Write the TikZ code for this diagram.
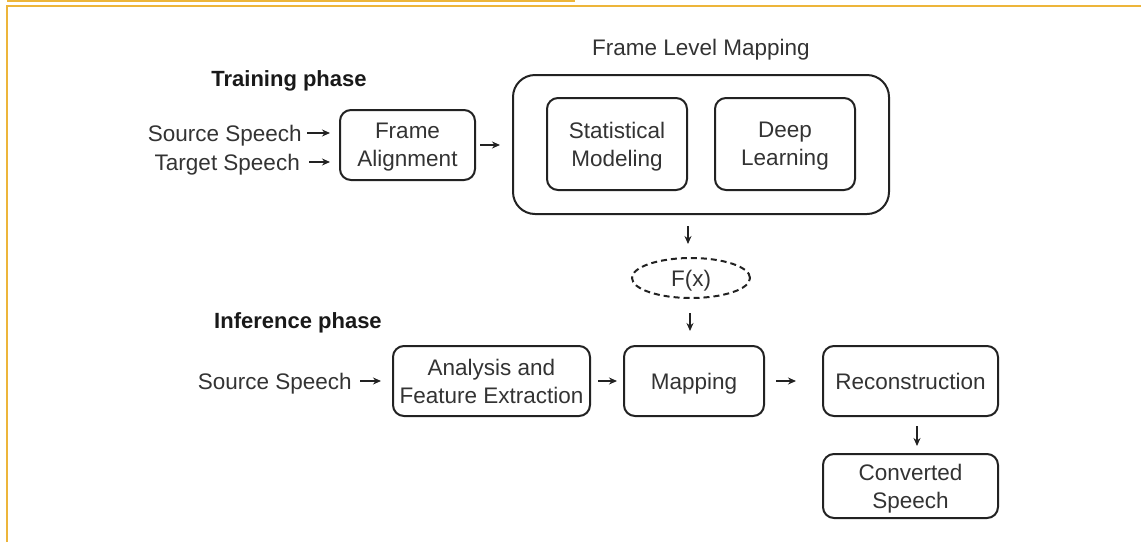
\documentclass[tikz,border=0pt]{standalone}
\usepackage{fontspec}
\setmainfont{Liberation Sans}
\usetikzlibrary{arrows.meta,shapes.geometric,calc}
\definecolor{txt}{HTML}{333333}
\definecolor{edge}{HTML}{222222}
\definecolor{frameor}{HTML}{EDB53A}
\begin{document}
\begin{tikzpicture}[x=1pt,y=-1pt,
  every node/.style={font=\fontsize{22.5}{28}\selectfont, text=txt, align=center, inner sep=0pt, text depth=0pt},
  box/.style={draw=edge, line width=2pt, rounded corners=11pt},
  bigbox/.style={draw=edge, line width=2pt, rounded corners=22pt},
  lbl/.style={},
  phase/.style={font=\fontsize{22}{26}\selectfont\bfseries, text=black!90},
  arr/.style={draw=edge, line width=1.3pt, -{Stealth[length=8pt,width=7pt]}},
  fxstyle/.style={ellipse, draw=edge, line width=2pt, dash pattern=on 6pt off 4pt}
]
\useasboundingbox (0,0) rectangle (1141,542);
% frame lines
\draw[frameor, line width=2pt] (7,1) -- (575,1);
\draw[frameor, line width=2pt] (7,542) -- (7,6) -- (1141,6);

% titles
\node[lbl] (flm) at (701,47) {Frame Level Mapping};
\node[phase] (tp) at (289,79) {Training phase};
\node[phase] (ip) at (298,321) {Inference phase};

% training
\node[box, minimum width=135pt, minimum height=70pt] (fa) at (407.5,145) {Frame\\Alignment};
\node[bigbox, minimum width=376pt, minimum height=139pt] (big) at (701,144.5) {};
\node[box, minimum width=140pt, minimum height=92pt] (sm) at (617,144) {Statistical\\Modeling};
\node[box, minimum width=140pt, minimum height=92pt] (dl) at (785,144) {Deep\\Learning};
\node[lbl, anchor=east] (src) at (302,133) {Source Speech};
\node[lbl, anchor=east] (tgt) at (300,162) {Target Speech};

\draw[arr] ($(src.east)+(5,0)$) -- ($(fa.west|-src.east)+(-9,0)$);
\draw[arr] ($(tgt.east)+(9,0)$) -- ($(fa.west|-tgt.east)+(-9,0)$);
\draw[arr] ($(fa.east)+(4,0)$) -- ($(big.west|-fa.east)+(-12,0)$);

% F(x)
\node[fxstyle, minimum width=118pt, minimum height=40pt] (fx) at (691,278) {F(x)};
\draw[arr] ($(big.south)+(-13,11)$) -- ($(fx.north)+(-3,-13)$);

% inference
\node[box, minimum width=197pt, minimum height=70pt] (afe) at (491.5,381) {Analysis and\\Feature Extraction};
\node[box, minimum width=140pt, minimum height=70pt] (map) at (694,381) {Mapping};
\node[box, minimum width=175pt, minimum height=70pt] (rec) at (910.5,381) {Reconstruction};
\node[box, minimum width=175pt, minimum height=64pt] (cs) at (910.5,486) {Converted\\Speech};
\node[lbl, anchor=east] (src2) at (352,381) {Source Speech};

\draw[arr] ($(fx.south)+(-1,14)$) -- ($(map.north)+(-4,-14)$);
\draw[arr] ($(src2.east)+(8,0)$) -- ($(afe.west)+(-11,0)$);
\draw[arr] ($(afe.east)+(7,0)$) -- ($(map.west)+(-6,0)$);
\draw[arr] ($(map.east)+(11,0)$) -- ($(rec.west)+(-26,0)$);
\draw[arr] ($(rec.south)+(6.5,9)$) -- ($(cs.north)+(6.5,-7)$);
\end{tikzpicture}
\end{document}
